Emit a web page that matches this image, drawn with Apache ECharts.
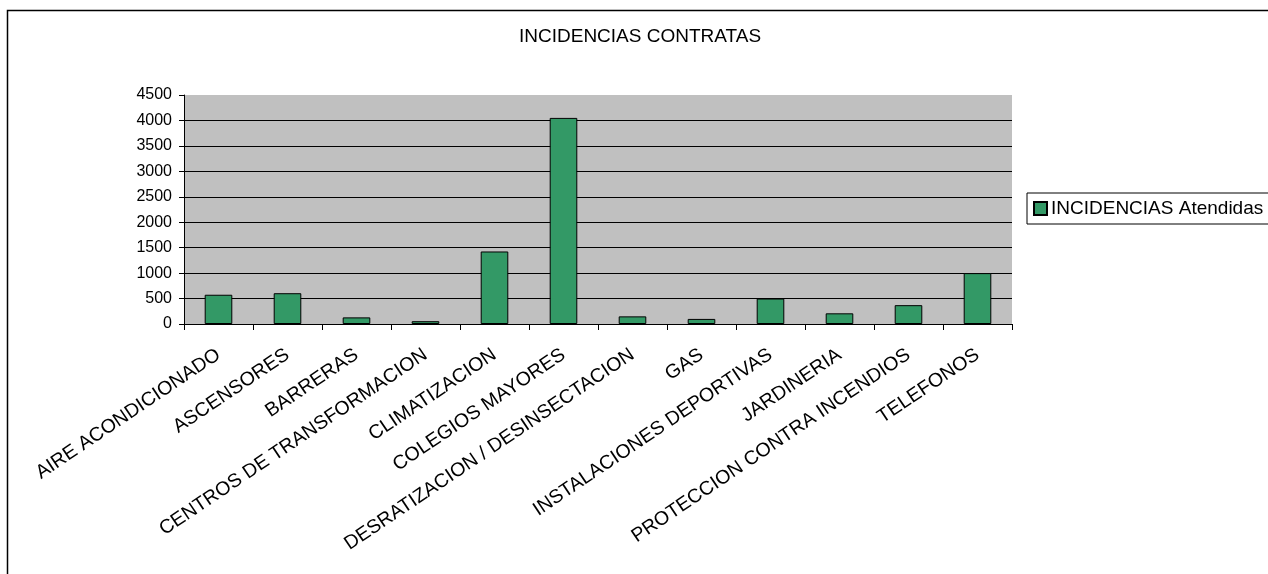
<!DOCTYPE html>
<html>
<head>
<meta charset="utf-8">
<script src="https://cdn.jsdelivr.net/npm/echarts@6/dist/echarts.min.js"></script>
<style>
html,body{margin:0;padding:0;background:#fff;}
#main{width:1268px;height:574px;}
</style>
</head>
<body>
<div id="main"></div>
<script>
const categories = ["AIRE ACONDICIONADO","ASCENSORES","BARRERAS","CENTROS DE TRANSFORMACION","CLIMATIZACION","COLEGIOS MAYORES","DESRATIZACION / DESINSECTACION","GAS","INSTALACIONES DEPORTIVAS","JARDINERIA","PROTECCION CONTRA INCENDIOS","TELEFONOS"];
const atendidas = [575, 605, 130, 55, 1425, 4050, 150, 100, 500, 210, 370, 1000];
const seriesName = "INCIDENCIAS Atendidas";
const titleText = "INCIDENCIAS CONTRATAS";
const yTicks = {min: 0, max: 4500, interval: 500};

const chart = echarts.init(document.getElementById('main'), null, {renderer: 'canvas'});
const font = 'Liberation Sans, Arial, sans-serif';
chart.setOption({
  animation: false,
  backgroundColor: '#fff',
  title: {
    text: titleText,
    left: 519, top: 27,
    padding: 0,
    textStyle: {fontFamily: font, fontSize: 19, fontWeight: 'normal', color: '#000'}
  },
  legend: {
    left: 1027, top: 193,
    orient: 'vertical',
    padding: [6, 10, 6, 6],
    borderColor: '#000', borderWidth: 1,
    itemWidth: 13, itemHeight: 13, itemGap: 6,
    icon: 'rect',
    textStyle: {fontFamily: font, fontSize: 19, color: '#000', padding: [0,0,0,-1]},
    data: [seriesName]
  },
  grid: {left: 184, right: 256, top: 95, bottom: 250, show: true, backgroundColor: '#C0C0C0', borderWidth: 0},
  xAxis: {
    type: 'category',
    data: categories,
    boundaryGap: true,
    axisLine: {lineStyle: {color: '#000', width: 1}},
    axisTick: {show: true, length: 6, interval: 0, lineStyle: {color: '#000'}},
    axisLabel: {interval: 0, rotate: 34, margin: 29, fontFamily: font, fontSize: 19.5, color: '#000'}
  },
  yAxis: {
    type: 'value',
    min: yTicks.min, max: yTicks.max, interval: yTicks.interval,
    axisLine: {show: true, lineStyle: {color: '#000', width: 1}},
    axisTick: {show: true, length: 5, lineStyle: {color: '#000'}},
    axisLabel: {margin: 12, fontFamily: font, fontSize: 16, color: '#000', formatter: v => String(v)},
    splitLine: {show: true, showMaxLine: false, lineStyle: {color: '#000', width: 1}}
  },
  series: [{
    name: seriesName,
    type: 'bar',
    data: atendidas,
    barWidth: '40%',
    itemStyle: {color: '#339966', borderColor: '#000', borderWidth: 1}
  }],
  graphic: [{
    type: 'rect',
    shape: {x: 7.5, y: 10.5, width: 1400, height: 700},
    style: {fill: 'none', stroke: '#000', lineWidth: 1.5},
    silent: true, z: 100
  }]
});
</script>
</body>
</html>
